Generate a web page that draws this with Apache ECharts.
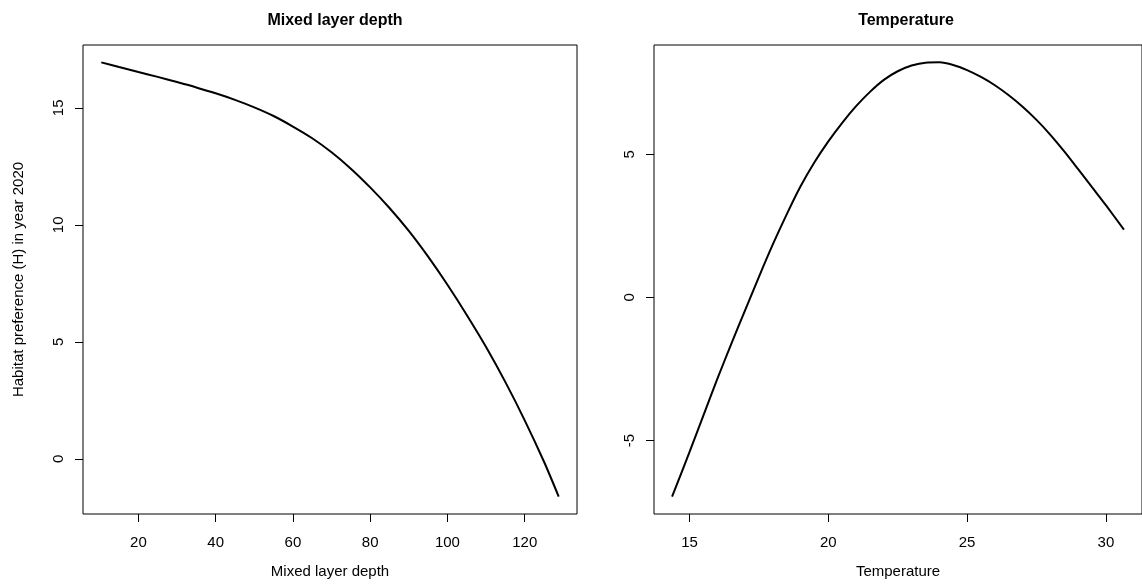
<!DOCTYPE html>
<html>
<head>
<meta charset="utf-8">
<title>Habitat preference</title>
<script src="https://cdn.jsdelivr.net/npm/echarts@6/dist/echarts.min.js"></script>
<style>
  html, body { margin: 0; padding: 0; background: #fff; }
  #chart { width: 1142px; height: 587px; }
</style>
</head>
<body>
<div id="chart"></div>
<script>
// Mixed layer depth panel
const mldX = [10.4, 15, 20, 25, 30, 35, 40, 45, 50, 55, 60, 65, 70, 75, 80, 85, 90, 95, 100, 105, 110, 115, 120, 125, 128.8]
const mldY = [16.94, 16.74, 16.53, 16.32, 16.1, 15.87, 15.62, 15.34, 15.02, 14.65, 14.2, 13.7, 13.1, 12.4, 11.6, 10.72, 9.74, 8.64, 7.44, 6.15, 4.78, 3.28, 1.65, -0.12, -1.61]
const mldXTicks = [20, 40, 60, 80, 100, 120]
const mldYTicks = [0, 5, 10, 15]

// Temperature panel
const tempX = [14.37, 15, 15.5, 16, 16.5, 17, 17.5, 18, 18.5, 19, 19.5, 20, 20.5, 21, 21.5, 22, 22.5, 23, 23.5, 24, 24.5, 25, 25.5, 26, 26.5, 27, 27.5, 28, 28.5, 29, 29.5, 30, 30.65]
const tempY = [-6.96, -5.4, -4.12, -2.85, -1.63, -0.45, 0.72, 1.85, 2.9, 3.88, 4.72, 5.45, 6.1, 6.68, 7.18, 7.6, 7.9, 8.1, 8.2, 8.21, 8.12, 7.94, 7.7, 7.41, 7.06, 6.66, 6.2, 5.68, 5.1, 4.48, 3.85, 3.22, 2.37]
const tempXTicks = [15, 20, 25, 30]
const tempYTicks = [-5, 0, 5]

const FONT = '"Liberation Sans", Arial, Helvetica, sans-serif'

// R style axis range: data range widened by 4% on each side
function rRange(arr) {
  const lo = Math.min(...arr)
  const hi = Math.max(...arr)
  const pad = (hi - lo) * 0.04
  return { min: lo - pad, max: hi + pad }
}

function zip(xs, ys) {
  return xs.map((x, i) => [x, ys[i]])
}

function xAxisFor(idx, data, ticks, name) {
  const r = rRange(data)
  return {
    type: 'value',
    gridIndex: idx,
    min: r.min,
    max: r.max,
    name: name,
    nameLocation: 'middle',
    nameGap: 50,
    nameTextStyle: { color: '#000', fontFamily: FONT, fontSize: 15 },
    axisLine: { show: false, onZero: false },
    splitLine: { show: false },
    axisTick: { show: true, inside: false, length: 8, customValues: ticks, lineStyle: { color: '#000', width: 1 } },
    axisLabel: { customValues: ticks, margin: 21, color: '#000', fontFamily: FONT, fontSize: 15 }
  }
}

function yAxisFor(idx, data, ticks, name) {
  const r = rRange(data)
  return {
    type: 'value',
    gridIndex: idx,
    min: r.min,
    max: r.max,
    name: name,
    nameLocation: 'middle',
    nameGap: 57,
    nameTextStyle: { color: '#000', fontFamily: FONT, fontSize: 15 },
    axisLine: { show: false, onZero: false },
    splitLine: { show: false },
    axisTick: { show: true, inside: false, length: 8, customValues: ticks, lineStyle: { color: '#000', width: 1 } },
    axisLabel: { customValues: ticks, rotate: 90, margin: 17, color: '#000', fontFamily: FONT, fontSize: 15 }
  }
}

const chart = echarts.init(document.getElementById('chart'))

const option = {
  backgroundColor: '#fff',
  animation: false,
  title: [
    {
      text: 'Mixed layer depth',
      left: 330, top: 8, textAlign: 'center',
      textStyle: { fontFamily: FONT, fontSize: 16, fontWeight: 'bold', color: '#000' }
    },
    {
      text: 'Temperature',
      left: 901, top: 8, textAlign: 'center',
      textStyle: { fontFamily: FONT, fontSize: 16, fontWeight: 'bold', color: '#000' }
    }
  ],
  grid: [
    { left: 83, top: 45, width: 494, height: 469, show: true, borderColor: '#000', borderWidth: 1, backgroundColor: 'transparent' },
    { left: 654, top: 45, width: 494, height: 469, show: true, borderColor: '#000', borderWidth: 1, backgroundColor: 'transparent' }
  ],
  xAxis: [
    xAxisFor(0, mldX, mldXTicks, 'Mixed layer depth'),
    xAxisFor(1, tempX, tempXTicks, 'Temperature')
  ],
  yAxis: [
    yAxisFor(0, mldY, mldYTicks, 'Habitat preference (H) in year 2020'),
    yAxisFor(1, tempY, tempYTicks, '')
  ],
  series: [
    {
      type: 'line',
      xAxisIndex: 0, yAxisIndex: 0,
      data: zip(mldX, mldY),
      smooth: 0.3,
      showSymbol: false,
      lineStyle: { color: '#000', width: 2 }
    },
    {
      type: 'line',
      xAxisIndex: 1, yAxisIndex: 1,
      data: zip(tempX, tempY),
      smooth: 0.3,
      showSymbol: false,
      lineStyle: { color: '#000', width: 2 }
    }
  ]
}

chart.setOption(option)
</script>
</body>
</html>
